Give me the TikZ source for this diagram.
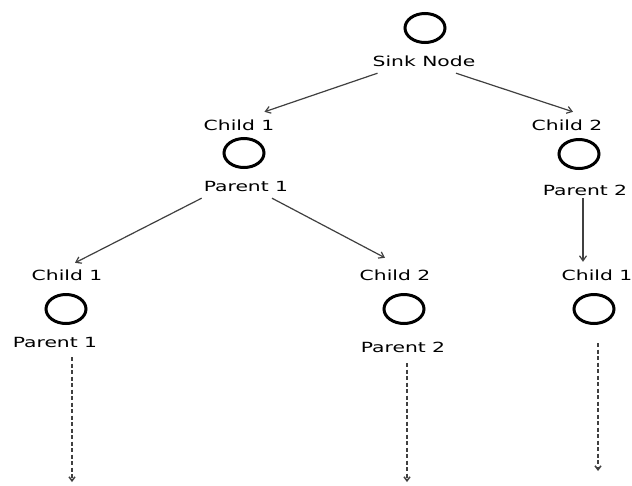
\documentclass[tikz,border=0pt]{standalone}
\usepackage{fontspec}
\setmainfont{DejaVu Sans}[FakeStretch=1.45]
\usetikzlibrary{arrows.meta,shapes.geometric}
\begin{document}
\begin{tikzpicture}[x=1pt,y=-1pt,
  sensor/.style={draw=black,line width=3pt,ellipse,minimum width=40pt,minimum height=29pt,inner sep=0pt},
  lbl/.style={font=\fontsize{14pt}{16pt}\selectfont,text height=10pt,text depth=0pt,inner sep=1pt,text=black},
  link/.style={draw=black!75,line width=1.2pt,-{Straight Barb[length=5pt,width=7pt]}},
  more/.style={draw=black!75,line width=1.5pt,dash pattern=on 4pt off 2.5pt,-{Straight Barb[length=4pt,width=6pt]}}]
\useasboundingbox[fill=white] (0,0) rectangle (632,485);

% root
\node[sensor] (sink) at (425,28) {};
\node[lbl] (sinkL) at (424,61) {Sink Node};

% first level
\node[lbl] (a1L) at (239,125) {Child 1};
\node[sensor] (a1) at (244,153) {};
\node[lbl] (a1P) at (246,186) {Parent 1};

\node[lbl] (b1L) at (567,125) {Child 2};
\node[sensor] (b1) at (579,154) {};
\node[lbl] (b1P) at (585,190) {Parent 2};

% second level
\node[lbl] (a2L) at (67,275) {Child 1};
\node[sensor] (a2) at (66,309) {};
\node[lbl] (a2P) at (55,342) {Parent 1};

\node[lbl] (b2L) at (395,275) {Child 2};
\node[sensor] (b2) at (404,309) {};
\node[lbl] (b2P) at (403,347) {Parent 2};

\node[lbl] (c2L) at (597,275) {Child 1};
\node[sensor] (c2) at (594,309) {};

% open ends of the tree
\coordinate (endA) at (72,482);
\coordinate (endB) at (407,482);
\coordinate (endC) at (598,471);

% parent-to-child links
\draw[link] ([xshift=6pt,yshift=-6pt]sinkL.south west) -- ([xshift=-11pt,yshift=7pt]a1L.north east);
\draw[link] ([xshift=32pt,yshift=-6pt]sinkL.south) -- ([xshift=6pt,yshift=7pt]b1L.north);
\draw[link] ([xshift=-1pt,yshift=-6pt]a1P.south west) -- ([xshift=8pt,yshift=6pt]a2L.north);
\draw[link] ([xshift=26pt,yshift=-6pt]a1P.south) -- ([xshift=-10pt,yshift=11pt]b2L.north);
\draw[link] ([xshift=-2pt,yshift=-2pt]b1P.south) -- ([xshift=-14pt,yshift=7pt]c2L.north);

% continuation of each branch
\draw[more] ([xshift=17pt,yshift=-9pt]a2P.south) -- (endA);
\draw[more] ([xshift=4pt,yshift=-10pt]b2P.south) -- (endB);
\draw[more] ([xshift=4pt,yshift=-18pt]c2.south) -- (endC);
\end{tikzpicture}
\end{document}
